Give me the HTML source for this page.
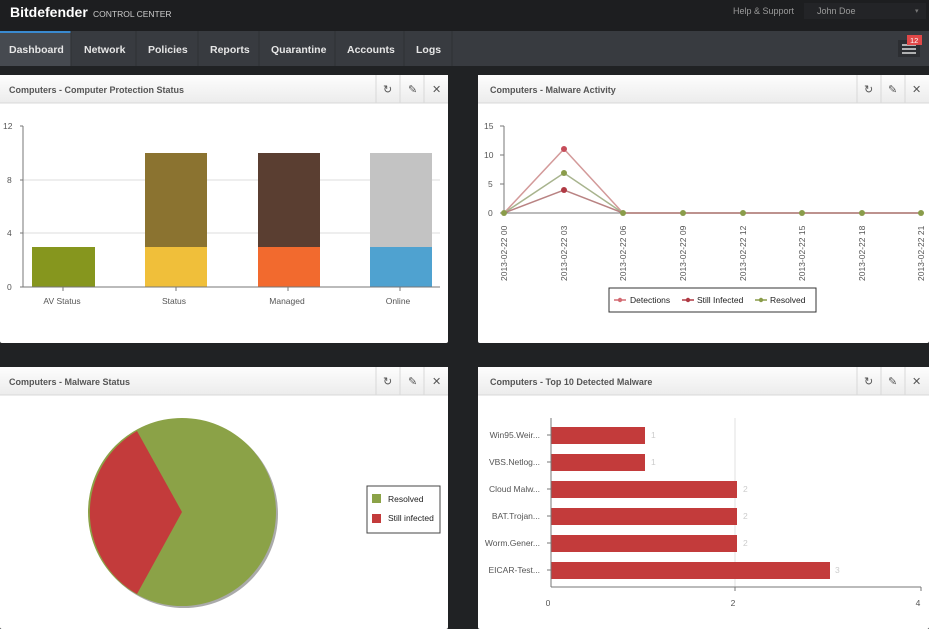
<!DOCTYPE html>
<html><head><meta charset="utf-8"><style>
body{margin:0;width:929px;height:629px;overflow:hidden;background:#202224;font-family:"Liberation Sans",sans-serif}
svg{display:block}
</style></head><body>
<svg width="929" height="629" xmlns="http://www.w3.org/2000/svg" font-family="Liberation Sans, sans-serif">
<defs>
<linearGradient id="hd" x1="0" y1="0" x2="0" y2="1"><stop offset="0" stop-color="#fdfdfd"/><stop offset="1" stop-color="#ececec"/></linearGradient>
</defs>
<rect width="929" height="629" fill="#202224"/>
<!-- top bar -->
<rect x="0" y="0" width="929" height="31" fill="#1d1e20"/>
<text x="10" y="17" fill="#fff" font-size="14" font-weight="bold">Bitdefender</text>
<text x="93" y="17" fill="#ccc" font-size="8.5">CONTROL CENTER</text>
<text x="733" y="14" fill="#9a9a9a" font-size="9">Help &amp; Support</text>
<rect x="804" y="3" width="122" height="16" fill="#232427"/>
<text x="817" y="14" fill="#9a9a9a" font-size="9">John Doe</text>
<text x="915" y="13" fill="#777" font-size="7">▾</text>
<!-- nav -->
<rect x="0" y="31" width="929" height="35" fill="#383b40"/>
<rect x="0" y="31" width="71" height="35" fill="#464a50"/>
<rect x="0" y="31" width="71" height="2" fill="#3a8ad0"/>
<g fill="#e6e6e6" font-size="10.5" font-weight="bold">
<text x="9" y="53">Dashboard</text><text x="84" y="53">Network</text><text x="148" y="53">Policies</text>
<text x="210" y="53">Reports</text><text x="271" y="53">Quarantine</text><text x="347" y="53">Accounts</text><text x="416" y="53">Logs</text>
</g>
<g stroke="#2e3034"><line x1="71" y1="31" x2="71" y2="66"/><line x1="136" y1="31" x2="136" y2="66"/><line x1="198" y1="31" x2="198" y2="66"/><line x1="259" y1="31" x2="259" y2="66"/><line x1="335" y1="31" x2="335" y2="66"/><line x1="404" y1="31" x2="404" y2="66"/><line x1="452" y1="31" x2="452" y2="66"/></g>
<rect x="898" y="40" width="22" height="17" fill="#2c2e32"/>
<g stroke="#ddd" stroke-width="1.5"><line x1="902" y1="45" x2="916" y2="45"/><line x1="902" y1="49" x2="916" y2="49"/><line x1="902" y1="53" x2="916" y2="53"/></g>
<rect x="907" y="35" width="15" height="10" fill="#e04848"/>
<text x="910" y="43" fill="#fff" font-size="7.5">12</text>

<!-- panels -->
<g id="panels">
<rect x="0" y="75" width="448" height="268" fill="#fff" rx="2"/>
<rect x="478" y="75" width="451" height="268" fill="#fff" rx="2"/>
<rect x="0" y="367" width="448" height="262" fill="#fff" rx="2"/>
<rect x="478" y="367" width="451" height="262" fill="#fff" rx="2"/>
<rect x="0" y="75" width="448" height="28" fill="url(#hd)"/>
<rect x="478" y="75" width="451" height="28" fill="url(#hd)"/>
<rect x="0" y="367" width="448" height="28" fill="url(#hd)"/>
<rect x="478" y="367" width="451" height="28" fill="url(#hd)"/>
<g stroke="#d8d8d8"><line x1="0" y1="103" x2="448" y2="103"/><line x1="478" y1="103" x2="929" y2="103"/><line x1="0" y1="395" x2="448" y2="395"/><line x1="478" y1="395" x2="929" y2="395"/>
<line x1="376" y1="75" x2="376" y2="103"/><line x1="400" y1="75" x2="400" y2="103"/><line x1="424" y1="75" x2="424" y2="103"/>
<line x1="857" y1="75" x2="857" y2="103"/><line x1="881" y1="75" x2="881" y2="103"/><line x1="905" y1="75" x2="905" y2="103"/>
<line x1="376" y1="367" x2="376" y2="395"/><line x1="400" y1="367" x2="400" y2="395"/><line x1="424" y1="367" x2="424" y2="395"/>
<line x1="857" y1="367" x2="857" y2="395"/><line x1="881" y1="367" x2="881" y2="395"/><line x1="905" y1="367" x2="905" y2="395"/></g>
<g fill="#555" font-size="9" font-weight="bold">
<text x="9" y="93">Computers - Computer Protection Status</text>
<text x="490" y="93">Computers - Malware Activity</text>
<text x="9" y="385">Computers - Malware Status</text>
<text x="490" y="385">Computers - Top 10 Detected Malware</text>
</g>
<g fill="#555" font-size="11">
<text x="383" y="93">↻</text><text x="408" y="93">✎</text><text x="432" y="93">✕</text>
<text x="864" y="93">↻</text><text x="888" y="93">✎</text><text x="912" y="93">✕</text>
<text x="383" y="385">↻</text><text x="408" y="385">✎</text><text x="432" y="385">✕</text>
<text x="864" y="385">↻</text><text x="888" y="385">✎</text><text x="912" y="385">✕</text>
</g>
</g>

<!-- chart 1 -->
<g stroke="#ddd"><line x1="23" y1="180" x2="440" y2="180"/><line x1="23" y1="233" x2="440" y2="233"/></g>
<rect x="32" y="247" width="63" height="40" fill="#86961e"/>
<rect x="145" y="153" width="62" height="94" fill="#8b7330"/><rect x="145" y="247" width="62" height="40" fill="#f0bf3a"/>
<rect x="258" y="153" width="62" height="94" fill="#5a3e31"/><rect x="258" y="247" width="62" height="40" fill="#f26a2e"/>
<rect x="370" y="153" width="62" height="94" fill="#c3c3c3"/><rect x="370" y="247" width="62" height="40" fill="#4fa2d0"/>
<g stroke="#777"><line x1="23" y1="126" x2="23" y2="287"/><line x1="20" y1="287" x2="440" y2="287"/>
<line x1="20" y1="126" x2="23" y2="126"/><line x1="20" y1="180" x2="23" y2="180"/><line x1="20" y1="233" x2="23" y2="233"/>
<line x1="63" y1="287" x2="63" y2="291"/><line x1="176" y1="287" x2="176" y2="291"/><line x1="288" y1="287" x2="288" y2="291"/><line x1="400" y1="287" x2="400" y2="291"/></g>
<g fill="#555" font-size="8.5"><text x="3" y="129">12</text><text x="7" y="183">8</text><text x="7" y="236">4</text><text x="7" y="290">0</text>
<text x="62" y="304" text-anchor="middle">AV Status</text><text x="174" y="304" text-anchor="middle">Status</text><text x="287" y="304" text-anchor="middle">Managed</text><text x="398" y="304" text-anchor="middle">Online</text></g>

<!-- chart 2 -->
<g stroke="#777"><line x1="504" y1="126" x2="504" y2="213"/><line x1="500" y1="213" x2="922" y2="213"/>
<line x1="500" y1="126" x2="504" y2="126"/><line x1="500" y1="155" x2="504" y2="155"/><line x1="500" y1="184" x2="504" y2="184"/></g>
<g fill="#555" font-size="8.5"><text x="484" y="129">15</text><text x="484" y="158">10</text><text x="488" y="187">5</text><text x="488" y="216">0</text></g>
<polyline points="504,213 564,149 623,213 921,213" fill="none" stroke="#d39a9a" stroke-width="1.5"/>
<polyline points="504,213 564,173 623,213 921,213" fill="none" stroke="#a8b48e" stroke-width="1.5"/>
<polyline points="504,213 564,190 623,213 921,213" fill="none" stroke="#b98383" stroke-width="1.5"/>
<circle cx="564" cy="149" r="3" fill="#c64d5a"/><circle cx="564" cy="173" r="3" fill="#8a9c4a"/><circle cx="564" cy="190" r="3" fill="#b03a44"/>
<g fill="#8a9c4a"><circle cx="504" cy="213" r="3"/><circle cx="623" cy="213" r="3"/><circle cx="683" cy="213" r="3"/><circle cx="743" cy="213" r="3"/><circle cx="802" cy="213" r="3"/><circle cx="862" cy="213" r="3"/><circle cx="921" cy="213" r="3"/></g>
<g fill="#555" font-size="8.5">
<text transform="translate(507,281) rotate(-90)">2013-02-22 00</text>
<text transform="translate(567,281) rotate(-90)">2013-02-22 03</text>
<text transform="translate(626,281) rotate(-90)">2013-02-22 06</text>
<text transform="translate(686,281) rotate(-90)">2013-02-22 09</text>
<text transform="translate(746,281) rotate(-90)">2013-02-22 12</text>
<text transform="translate(805,281) rotate(-90)">2013-02-22 15</text>
<text transform="translate(865,281) rotate(-90)">2013-02-22 18</text>
<text transform="translate(924,281) rotate(-90)">2013-02-22 21</text>
</g>
<rect x="609" y="288" width="207" height="24" fill="#fff" stroke="#333"/>
<g stroke-width="1.5"><line x1="614" y1="300" x2="626" y2="300" stroke="#d36a72"/><line x1="682" y1="300" x2="694" y2="300" stroke="#b03a44"/><line x1="755" y1="300" x2="767" y2="300" stroke="#8a9c4a"/></g>
<circle cx="620" cy="300" r="2.2" fill="#d36a72"/><circle cx="688" cy="300" r="2.2" fill="#b03a44"/><circle cx="761" cy="300" r="2.2" fill="#8a9c4a"/>
<g fill="#222" font-size="8.5"><text x="630" y="303">Detections</text><text x="697" y="303">Still Infected</text><text x="770" y="303">Resolved</text></g>

<!-- chart 3 pie -->
<circle cx="184" cy="514" r="94" fill="#555" opacity="0.5"/>
<circle cx="182" cy="512" r="94" fill="#8ba247"/>
<path d="M182,512 L137,431 A94,94 0 0 0 137,594 Z" fill="#c33b3b"/>
<rect x="367" y="486" width="73" height="47" fill="#fff" stroke="#444"/>
<rect x="372" y="494" width="9" height="9" fill="#8ba247"/><rect x="372" y="514" width="9" height="9" fill="#c33b3b"/>
<g fill="#222" font-size="8.5"><text x="388" y="502">Resolved</text><text x="388" y="521">Still infected</text></g>

<!-- chart 4 -->
<line x1="735" y1="418" x2="735" y2="587" stroke="#e2e2e2"/>
<g fill="#c33b3b">
<rect x="551" y="427" width="94" height="17"/><rect x="551" y="454" width="94" height="17"/>
<rect x="551" y="481" width="186" height="17"/><rect x="551" y="508" width="186" height="17"/>
<rect x="551" y="535" width="186" height="17"/><rect x="551" y="562" width="279" height="17"/>
</g>
<g stroke="#777"><line x1="551" y1="418" x2="551" y2="587"/><line x1="551" y1="587" x2="921" y2="587"/>
<line x1="735" y1="587" x2="735" y2="591"/><line x1="921" y1="587" x2="921" y2="591"/>
<line x1="547" y1="435" x2="551" y2="435"/><line x1="547" y1="462" x2="551" y2="462"/><line x1="547" y1="489" x2="551" y2="489"/><line x1="547" y1="516" x2="551" y2="516"/><line x1="547" y1="543" x2="551" y2="543"/><line x1="547" y1="570" x2="551" y2="570"/></g>
<g fill="#555" font-size="8.5" text-anchor="end">
<text x="540" y="438">Win95.Weir...</text><text x="540" y="465">VBS.Netlog...</text><text x="540" y="492">Cloud Malw...</text>
<text x="540" y="519">BAT.Trojan...</text><text x="540" y="546">Worm.Gener...</text><text x="540" y="573">EICAR-Test...</text></g>
<g fill="#ccc" font-size="8.5"><text x="651" y="438">1</text><text x="651" y="465">1</text><text x="743" y="492">2</text><text x="743" y="519">2</text><text x="743" y="546">2</text><text x="835" y="573">3</text></g>
<g fill="#555" font-size="8.5" text-anchor="middle"><text x="548" y="606">0</text><text x="733" y="606">2</text><text x="918" y="606">4</text></g>
</svg>
</body></html>
